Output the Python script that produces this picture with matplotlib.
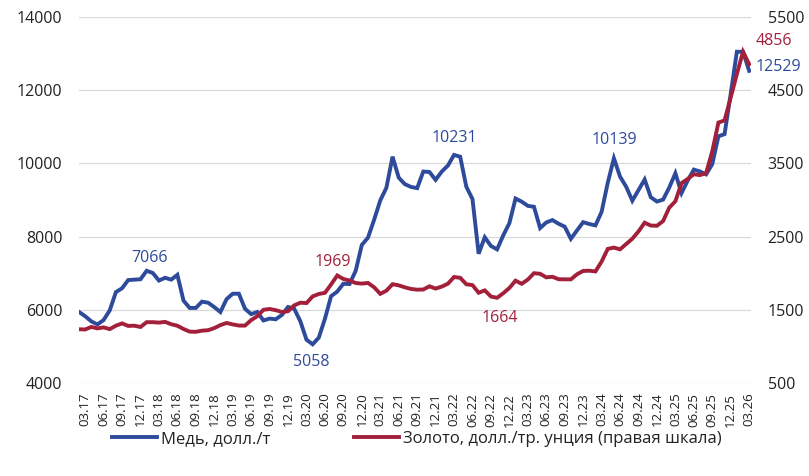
import matplotlib
matplotlib.use("Agg")
import matplotlib.pyplot as plt
import numpy as np

plt.rcParams['font.family'] = ['Open Sans', 'DejaVu Sans']

# Monthly data 02.17 .. 03.26
copper = [
    5941, 5825, 5684, 5600, 5720, 5985, 6484, 6588, 6812, 6824, 6834,
    7066, 7006, 6799, 6874, 6824, 6956, 6250, 6051, 6051, 6222, 6194, 6073,
    5939, 6291, 6439, 6440, 6029, 5882, 5941, 5709, 5760, 5741, 5860, 6077,
    6031, 5687, 5183, 5058, 5239, 5755, 6372, 6497, 6712, 6704, 7064, 7772,
    7971, 8460, 8988, 9336, 10184, 9612, 9433, 9357, 9324, 9778, 9765, 9551,
    9776, 9941, 10231, 10183, 9361, 9025, 7532, 7981, 7745, 7651, 8032, 8367,
    9040, 8955, 8840, 8815, 8234, 8386, 8452, 8352, 8271, 7940, 8169, 8394,
    8344, 8306, 8675, 9470, 10139, 9640, 9361, 8981, 9270, 9560, 9076, 8958,
    9010, 9340, 9730, 9190, 9530, 9830, 9780, 9700, 9980, 10740, 10800, 11900,
    13050, 13050, 12529,
]
gold = [
    1234, 1231, 1266, 1246, 1260, 1236, 1283, 1314, 1280, 1283, 1265,
    1331, 1331, 1325, 1335, 1303, 1282, 1238, 1202, 1199, 1215, 1221, 1250,
    1291, 1320, 1300, 1285, 1284, 1359, 1413, 1500, 1511, 1495, 1470, 1480,
    1560, 1597, 1592, 1683, 1716, 1732, 1846, 1969, 1921, 1900, 1866, 1858,
    1867, 1808, 1718, 1761, 1850, 1834, 1807, 1785, 1775, 1777, 1821, 1790,
    1817, 1856, 1948, 1937, 1849, 1837, 1733, 1765, 1681, 1664, 1726, 1798,
    1898, 1855, 1913, 2000, 1992, 1943, 1951, 1918, 1916, 1916, 1985, 2031,
    2034, 2024, 2159, 2332, 2350, 2326, 2399, 2471, 2571, 2690, 2651, 2648,
    2712, 2895, 2983, 3230, 3288, 3352, 3340, 3368, 3665, 4058, 4087, 4400,
    4720, 5025, 4856,
]
# month labels
months = []
m, y = 2, 17
for _ in range(len(copper)):
    months.append(f"{m:02d}.{y:02d}")
    m += 1
    if m > 12:
        m, y = 1, y + 1

tick_labels = [lab for lab in months if lab[:2] in ("03", "06", "09", "12")]
left_ticks = [4000, 6000, 8000, 10000, 12000, 14000]
right_ticks = [500, 1500, 2500, 3500, 4500, 5500]

# labelled points: (month, offset in points, ha)
copper_labels = [("01.18", (2, 9.5), 'center'), ("04.20", (-0.7, -12.5), 'center'),
                 ("03.22", (0, 12), 'center'), ("05.24", (0, 13.5), 'center'),
                 ("03.26", (4.3, 2.5), 'left')]
gold_labels = [("08.20", (-3.3, 10), 'center'), ("10.22", (1.7, -14.5), 'center'),
               ("03.26", (4.3, 16.5), 'left')]

blue = '#2E4A9A'
red = '#A3203A'
txt = '#222222'

fig = plt.figure(figsize=(8.09, 4.76), dpi=100)
ax = fig.add_axes([79/809, 1-383/476, (751-79)/809, (383-17)/476])
ax2 = ax.twinx()

x = np.arange(len(copper))
l1, = ax.plot(x, copper, color=blue, lw=2.8, solid_joinstyle='miter', label='Медь, долл./т')
l2, = ax2.plot(x, gold, color=red, lw=2.8, solid_joinstyle='miter',
               label='Золото, долл./тр. унция (правая шкала)')

ax.set_ylim(4000, 14000)
ax2.set_ylim(500, 5500)
ax.set_xlim(0, len(copper) - 1 + 0.3)
ax.set_yticks(left_ticks)
ax2.set_yticks(right_ticks)
ax.set_yticklabels([str(v) for v in left_ticks])
ax2.set_yticklabels([str(v) for v in right_ticks])

xt = [months.index(l) for l in tick_labels]
ax.set_xticks(xt)
ax.set_xticklabels(tick_labels, rotation=90, fontsize=9.5, color=txt)
ax.tick_params(axis='x', length=0, pad=7)
ax.tick_params(axis='y', length=0, pad=12, labelsize=11.5, labelcolor=txt)
ax2.tick_params(axis='y', length=0, pad=12, labelsize=11.5, labelcolor=txt)

ax.grid(axis='y', color='#D9D9D9', lw=0.9)
ax.set_axisbelow(True)
for a in (ax, ax2):
    for s in a.spines.values():
        s.set_visible(False)

for lab, off, ha in copper_labels:
    i = months.index(lab)
    ax.annotate(str(copper[i]), (i, copper[i]), xytext=off, textcoords='offset points',
                ha=ha, va='center', color=blue, fontsize=11.5)
for lab, off, ha in gold_labels:
    i = months.index(lab)
    ax2.annotate(str(gold[i]), (i, gold[i]), xytext=off, textcoords='offset points',
                 ha=ha, va='center', color=red, fontsize=11.5)

fig.legend(handles=[l1, l2], loc='center', bbox_to_anchor=(417/809, 1-439/476),
           ncol=2, frameon=False, fontsize=12, handlelength=2.7, handletextpad=0.25,
           columnspacing=5.0, labelcolor=txt)

fig.savefig('out.png', dpi=100)
